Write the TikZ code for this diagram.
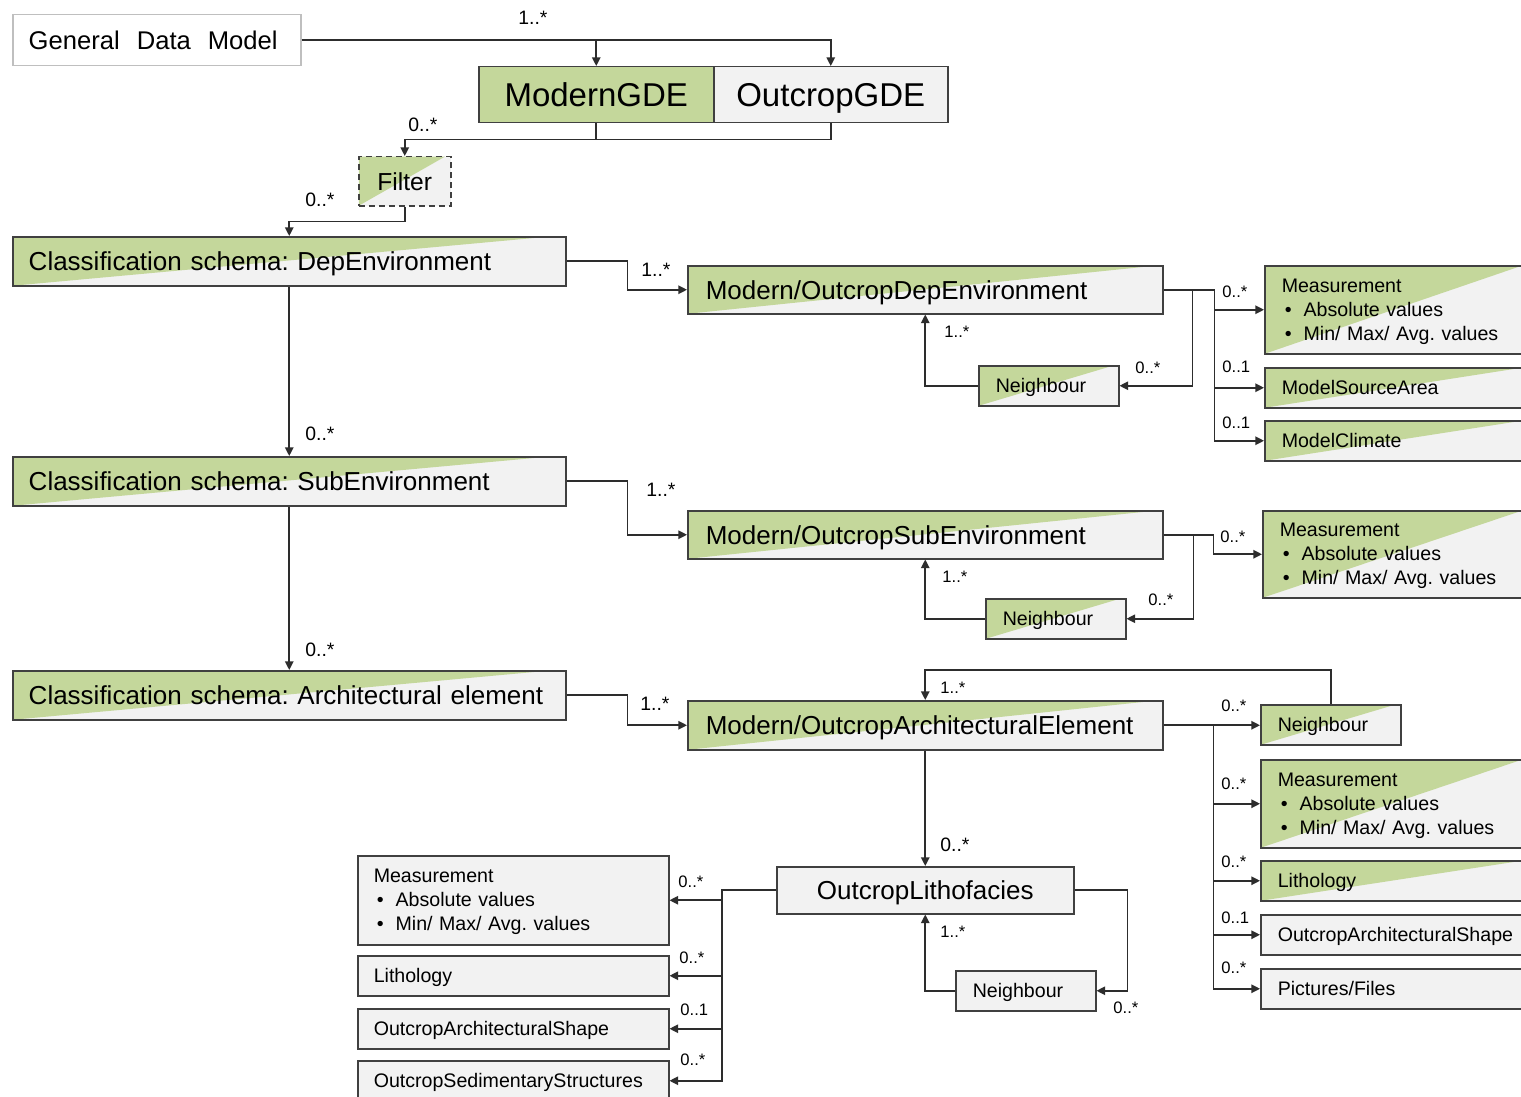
\documentclass[tikz,border=0pt]{standalone}
\usepackage{fontspec}
\setmainfont{Liberation Sans}
\usetikzlibrary{arrows.meta}
\definecolor{grn}{HTML}{C4D79B}
\definecolor{gry}{HTML}{F2F2F2}
\definecolor{bdr}{HTML}{404040}
\definecolor{lbdr}{HTML}{BFBFBF}
\tikzset{
  cbox/.style={draw=bdr, line width=0.75pt, fill=gry, anchor=north west, inner ysep=0pt, inner xsep=8.5pt, align=left, text depth=0pt},
  meas/.style={text depth=24pt},
  split/.style={path picture={\fill[grn] (path picture bounding box.south west) -- (path picture bounding box.north west) -- ([xshift=-#1]path picture bounding box.north east) -- cycle;}},
  split/.default=3pt,
  fbig/.style={font=\fontsize{13}{15}\selectfont},
  fsmall/.style={font=\fontsize{9.8}{12}\selectfont},
  conn/.style={draw=bdr!70!black, line width=0.8pt},
  arr/.style={conn, -{Triangle[length=4.3pt,width=4.2pt]}},
  labl/.style={anchor=west, inner sep=0pt, font=\fontsize{9.7}{11}\selectfont},
  labs/.style={anchor=west, inner sep=0pt, font=\fontsize{8.3}{10}\selectfont},
}
\newcommand{\bul}{\hspace*{1.5pt}\textbullet\hspace{6pt}}
\frenchspacing
\begin{document}
\begin{tikzpicture}[x=0.5pt,y=-0.5pt]
\useasboundingbox (0,0) rectangle (1521,1097);
\clip (0,0) rectangle (1521,1097);
\fill[white] (0,0) rectangle (1521,1097);

% top
\node[cbox, draw=lbdr, fill=white, inner xsep=8pt, text width=128pt, minimum height=25.5pt, font=\fontsize{12.8}{15}\selectfont] (gdm) at (12,14) {General\hspace{8.5pt}Data\hspace{8.5pt}Model};
\node[cbox, fill=grn, align=center, inner xsep=0pt, minimum width=117.5pt, minimum height=28pt, font=\fontsize{16.5}{19}\selectfont] (mgde) at (478,66) {ModernGDE};
\node[cbox, align=center, inner xsep=0pt, minimum width=117pt, minimum height=28pt, font=\fontsize{16.5}{19}\selectfont] (ogde) at (713,66) {OutcropGDE};
\node[cbox, split, dashed, dash pattern=on 3pt off 2pt, align=center, inner xsep=0pt, minimum width=46pt, minimum height=24.5pt, font=\fontsize{12.3}{14}\selectfont] (filter) at (358,156) {Filter};

% classification
\node[cbox, split=9pt, fbig, inner xsep=8pt, text width=260.5pt, minimum height=24.5pt] (cdep) at (12,236) {Classification schema: DepEnvironment};
\node[cbox, split=9pt, fbig, inner xsep=8pt, text width=260.5pt, minimum height=24.5pt] (csub) at (12,456) {Classification schema: SubEnvironment};
\node[cbox, split=9pt, fbig, inner xsep=8pt, text width=260.5pt, minimum height=24.5pt] (carch) at (12,670) {Classification schema: Architectural element};

% modern/outcrop
\node[cbox, split=4pt, fbig, inner xsep=9pt, text width=219.5pt, minimum height=24pt] (modep) at (687,265) {Modern/OutcropDepEnvironment};
\node[cbox, split=4pt, fbig, inner xsep=9pt, text width=219.5pt, minimum height=24pt] (mosub) at (687,510) {Modern/OutcropSubEnvironment};
\node[cbox, split=4pt, fbig, inner xsep=9pt, text width=219.5pt, minimum height=24.5pt] (moarch) at (687,700) {Modern/OutcropArchitecturalElement};

% neighbours
\node[cbox, split, fsmall, text width=53pt, minimum height=20pt] (nb1) at (978,365) {Neighbour};
\node[cbox, split, fsmall, text width=53pt, minimum height=20pt] (nb2) at (985,598) {Neighbour};
\node[cbox, split, fsmall, text width=53pt, minimum height=20pt] (nb3) at (1260,704) {Neighbour};
\node[cbox, fsmall, text width=53pt, minimum height=20pt] (nb4) at (955,970) {Neighbour};

% right column
\node[cbox, meas, split=12pt, fsmall, text width=123.5pt, minimum height=44pt] (meas1) at (1264,265) {Measurement\\\bul Absolute values\\\bul Min/ Max/ Avg. values};
\node[cbox, split=12pt, fsmall, text width=123.5pt, minimum height=20pt] (msa) at (1264,367) {ModelSourceArea};
\node[cbox, split=12pt, fsmall, text width=123.5pt, minimum height=20pt] (mc) at (1264,420) {ModelClimate};
\node[cbox, meas, split=12pt, fsmall, text width=124.5pt, minimum height=43.5pt] (meas2) at (1262,510) {Measurement\\\bul Absolute values\\\bul Min/ Max/ Avg. values};
\node[cbox, meas, split=12pt, fsmall, text width=125.5pt, minimum height=44pt] (meas3) at (1260,759) {Measurement\\\bul Absolute values\\\bul Min/ Max/ Avg. values};
\node[cbox, split=12pt, fsmall, text width=125.5pt, minimum height=20pt] (lithr) at (1260,860) {Lithology};
\node[cbox, fsmall, text width=125.5pt, minimum height=20pt] (oasr) at (1260,914) {OutcropArchitecturalShape};
\node[cbox, fsmall, text width=125.5pt, minimum height=20pt] (pics) at (1260,968) {Pictures/Files};

% lithofacies
\node[cbox, fbig, align=center, inner xsep=0pt, minimum width=148.5pt, minimum height=23.5pt] (lf) at (776,866) {OutcropLithofacies};
\node[cbox, meas, fsmall, inner xsep=8pt, text width=139.5pt, minimum height=44.5pt] (meas4) at (357,855) {Measurement\\\bul Absolute values\\\bul Min/ Max/ Avg. values};
\node[cbox, fsmall, inner xsep=8pt, text width=139.5pt, minimum height=20pt] (lithl) at (357,955) {Lithology};
\node[cbox, fsmall, inner xsep=8pt, text width=139.5pt, minimum height=20pt] (oasl) at (357,1008) {OutcropArchitecturalShape};
\node[cbox, fsmall, inner xsep=8pt, text width=139.5pt, minimum height=20pt] (oss) at (357,1060) {OutcropSedimentaryStructures};

% connectors top
\draw[arr] (gdm.east) -| (ogde.north);
\draw[arr] (gdm.east -| mgde.north) -- (mgde.north);
\draw[conn] (mgde.south) -- ++(0,16);
\draw[arr] (ogde.south) -- ++(0,16) -| (filter.north);
\draw[arr] (filter.south) -- ++(0,15) -| (cdep.north);
\draw[arr] (cdep.south) -- (csub.north);
\draw[arr] (csub.south) -- (carch.north);
\draw[arr] (cdep.east) -- ++(61,0) |- (modep.west);
\draw[arr] (csub.east) -- ++(61,0) |- (mosub.west);
\draw[arr] (carch.east) -- ++(61,0) |- (moarch.west);

% dep
\draw[arr] (modep.east) -- ++(51,0) |- (meas1.west);
\draw[arr] (modep.east) ++(51,0) |- (msa.west);
\draw[arr] (modep.east) ++(51,0) |- (mc.west);
\draw[arr] (modep.east) -- ++(29,0) |- (nb1.east);
\draw[arr] (nb1.west) -| (modep.south);

% sub
\draw[arr] (mosub.east) -- ++(50,0) |- (meas2.west);
\draw[arr] (mosub.east) -- ++(30,0) |- (nb2.east);
\draw[arr] (nb2.west) -| (mosub.south);

% arch
\draw[arr] (moarch.east) -- (moarch.east -| nb3.west);
\draw[arr] (moarch.east) ++(50,0) |- (meas3.west);
\draw[arr] (moarch.east) ++(50,0) |- (lithr.west);
\draw[arr] (moarch.east) ++(50,0) |- (oasr.west);
\draw[arr] (moarch.east) ++(50,0) |- (pics.west);
\draw[arr] (nb3.north) -- ++(0,-34) -| (moarch.north);
\draw[arr] (moarch.south) -- (lf.north);

% lithofacies
\draw[arr] (lf.west) -- ++(-54,0) |- (meas4.east);
\draw[arr] (lf.west) ++(-54,0) |- (lithl.east);
\draw[arr] (lf.west) ++(-54,0) |- (oasl.east);
\draw[arr] (lf.west) ++(-54,0) |- (oss.east);
\draw[arr] (lf.east) -- ++(53,0) |- (nb4.east);
\draw[arr] (nb4.west) -| (lf.south);

% labels
\node[labl] (m1) at (518,18) {1..*};
\node[labl] (m2) at (408,125) {0..*};
\node[labl] (m3) at (305,200) {0..*};
\node[labl] (m4) at (305,434) {0..*};
\node[labl] (m5) at (305,650) {0..*};
\node[labl] (m6) at (641,270) {1..*};
\node[labl] (m7) at (646,490) {1..*};
\node[labl] (m8) at (640,704) {1..*};
\node[labs] (m9) at (944,332) {1..*};
\node[labs] (m10) at (1135,368) {0..*};
\node[labs] (m11) at (1222,292) {0..*};
\node[labs] (m12) at (1222,367) {0..1};
\node[labs] (m13) at (1222,423) {0..1};
\node[labs] (m14) at (1220,537) {0..*};
\node[labs] (m15) at (942,577) {1..*};
\node[labs] (m16) at (1148,600) {0..*};
\node[labs] (m17) at (940,688) {1..*};
\node[labs] (m18) at (1221,706) {0..*};
\node[labs] (m19) at (1221,784) {0..*};
\node[labs] (m20) at (1221,862) {0..*};
\node[labs] (m21) at (1221,918) {0..1};
\node[labs] (m22) at (1221,968) {0..*};
\node[labl] (m23) at (940,845) {0..*};
\node[labs] (m24) at (678,882) {0..*};
\node[labs] (m25) at (679,958) {0..*};
\node[labs] (m26) at (680,1010) {0..1};
\node[labs] (m27) at (680,1060) {0..*};
\node[labs] (m28) at (940,932) {1..*};
\node[labs] (m29) at (1113,1008) {0..*};
\end{tikzpicture}
\end{document}
